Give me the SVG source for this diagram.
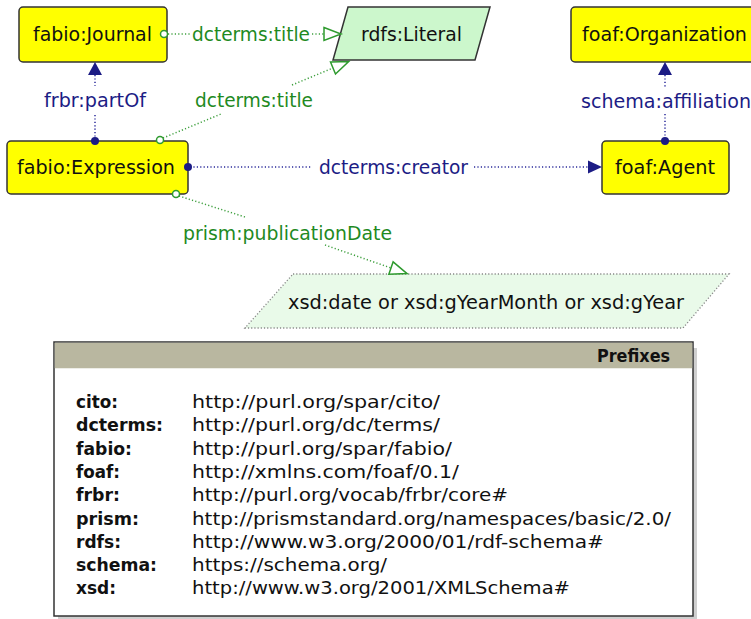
<svg xmlns="http://www.w3.org/2000/svg" width="751" height="619" viewBox="0 0 751 619">
<style>
.node{fill:#ffff00;stroke:#333;stroke-width:1.5}
.nl{font-family:"DejaVu Sans",sans-serif;font-size:19px;fill:#111}
.gl{stroke:#3fa03f;stroke-width:1.5;stroke-dasharray:1.2 2.2;fill:none}
.bl{stroke:#2a2a9a;stroke-width:1.5;stroke-dasharray:1.2 2.2;fill:none}
.gt{font-family:"DejaVu Sans",sans-serif;font-size:19px;fill:#1f8a1f}
.bt{font-family:"DejaVu Sans",sans-serif;font-size:19px;fill:#1c1c85}
.pk{font-family:"DejaVu Sans",sans-serif;font-size:18px;font-weight:bold;fill:#111}
.pv{font-family:"DejaVu Sans",sans-serif;font-size:18px;fill:#111}
.oc{fill:#fff;stroke:#2e9a2e;stroke-width:1.5}
.fc{fill:#1c1c85}
</style>
<defs>
<marker id="hollow" markerUnits="userSpaceOnUse" markerWidth="22" markerHeight="18" refX="0" refY="0" orient="auto" viewBox="-2 -9 22 18">
<path d="M0,-6.5 L17,0 L0,6.5 Z" fill="#fff" stroke="#2e9a2e" stroke-width="1.5"/>
</marker>
</defs>

<g id="n-journal">
<rect class="node" x="19" y="7" width="148" height="55" rx="4"/>
<text class="nl" x="33" y="41" textLength="119" lengthAdjust="spacingAndGlyphs">fabio:Journal</text>
</g>
<g id="n-literal">
<polygon points="348,7 490,7 475,60 333,60" fill="#ccf7cc" stroke="#333" stroke-width="1.5"/>
<text class="nl" x="361" y="41" textLength="101" lengthAdjust="spacingAndGlyphs">rdfs:Literal</text>
</g>
<g id="n-organization">
<rect class="node" x="571" y="7" width="190" height="55" rx="4"/>
<text class="nl" x="582" y="41" textLength="165" lengthAdjust="spacingAndGlyphs">foaf:Organization</text>
</g>
<g id="n-expression">
<rect class="node" x="7" y="141" width="181" height="53" rx="4"/>
<text class="nl" x="17" y="174" textLength="158" lengthAdjust="spacingAndGlyphs">fabio:Expression</text>
</g>
<g id="n-agent">
<rect class="node" x="602" y="141" width="127" height="53" rx="4"/>
<text class="nl" x="615" y="174" textLength="100" lengthAdjust="spacingAndGlyphs">foaf:Agent</text>
</g>
<g id="n-date">
<polygon points="293,274 729,274 683,328 245,328" fill="#e9fae9" stroke="#888" stroke-width="1.3" stroke-dasharray="1.2 2"/>
<text class="nl" x="288" y="309" textLength="396" lengthAdjust="spacingAndGlyphs">xsd:date or xsd:gYearMonth or xsd:gYear</text>
</g>

<g id="connectors">
<g id="e-title1">
<path class="gl" d="M168,34 L190,34"/>
<path class="gl" d="M312,34 L324,34" marker-end="url(#hollow)"/>
<circle class="oc" cx="164" cy="34" r="3.5"/>
<text class="gt" x="192" y="41" textLength="118" lengthAdjust="spacingAndGlyphs">dcterms:title</text>
</g>
<g id="e-partof">
<path class="bl" d="M95,75 L95,86"/>
<path class="bl" d="M95,115 L95,140"/>
<path class="fc" d="M88,75 L95,62 L102,75 Z"/>
<circle class="fc" cx="95" cy="141" r="4"/>
<text class="bt" x="44" y="107" textLength="102" lengthAdjust="spacingAndGlyphs">frbr:partOf</text>
</g>
<g id="e-title2">
<path class="gl" d="M163,138 L221,114"/>
<path class="gl" d="M292,85 L333,68" marker-end="url(#hollow)"/>
<circle class="oc" cx="160" cy="140" r="3.5"/>
<text class="gt" x="195" y="107" textLength="118" lengthAdjust="spacingAndGlyphs">dcterms:title</text>
</g>
<g id="e-creator">
<path class="bl" d="M190,167 L312,167"/>
<path class="bl" d="M474,167 L588,167"/>
<path class="fc" d="M588,160.5 L602,167 L588,173.5 Z"/>
<circle class="fc" cx="188" cy="167" r="4"/>
<text class="bt" x="319" y="174" textLength="149" lengthAdjust="spacingAndGlyphs">dcterms:creator</text>
</g>
<g id="e-affiliation">
<path class="bl" d="M665,75 L665,87"/>
<path class="bl" d="M665,114 L665,140"/>
<path class="fc" d="M658,75 L665,62 L672,75 Z"/>
<circle class="fc" cx="665" cy="141" r="4"/>
<text class="bt" x="581" y="108" textLength="170" lengthAdjust="spacingAndGlyphs">schema:affiliation</text>
</g>
<g id="e-pubdate">
<path class="gl" d="M179,196 L245,217"/>
<path class="gl" d="M325,245 L391,268" marker-end="url(#hollow)"/>
<circle class="oc" cx="176" cy="194" r="3.5"/>
<text class="gt" x="183" y="240" textLength="209" lengthAdjust="spacingAndGlyphs">prism:publicationDate</text>
</g>
</g>

<g id="prefixes">
<rect x="58" y="348" width="639" height="274" fill="#cfcfcf"/>
<rect x="54" y="342" width="639" height="274" fill="#fff" stroke="#333" stroke-width="1.5"/>
<rect x="54.75" y="342.75" width="637.5" height="25.5" fill="#b9b7a0"/>
<text class="pk" x="597" y="362" textLength="73" lengthAdjust="spacingAndGlyphs">Prefixes</text>
<g class="pk">
<text x="76" y="408" textLength="42" lengthAdjust="spacingAndGlyphs">cito:</text>
<text x="76" y="431.3" textLength="87" lengthAdjust="spacingAndGlyphs">dcterms:</text>
<text x="76" y="454.6" textLength="56" lengthAdjust="spacingAndGlyphs">fabio:</text>
<text x="76" y="477.9" textLength="44" lengthAdjust="spacingAndGlyphs">foaf:</text>
<text x="76" y="501.2" textLength="44" lengthAdjust="spacingAndGlyphs">frbr:</text>
<text x="76" y="524.5" textLength="63" lengthAdjust="spacingAndGlyphs">prism:</text>
<text x="76" y="547.8" textLength="45" lengthAdjust="spacingAndGlyphs">rdfs:</text>
<text x="76" y="571.1" textLength="81" lengthAdjust="spacingAndGlyphs">schema:</text>
<text x="76" y="594.4" textLength="40" lengthAdjust="spacingAndGlyphs">xsd:</text>
</g>
<g class="pv">
<text x="192" y="408" textLength="248" lengthAdjust="spacingAndGlyphs">http://purl.org/spar/cito/</text>
<text x="192" y="431.3" textLength="248" lengthAdjust="spacingAndGlyphs">http://purl.org/dc/terms/</text>
<text x="192" y="454.6" textLength="260" lengthAdjust="spacingAndGlyphs">http://purl.org/spar/fabio/</text>
<text x="192" y="477.9" textLength="267" lengthAdjust="spacingAndGlyphs">http://xmlns.com/foaf/0.1/</text>
<text x="192" y="501.2" textLength="316" lengthAdjust="spacingAndGlyphs">http://purl.org/vocab/frbr/core#</text>
<text x="192" y="524.5" textLength="479" lengthAdjust="spacingAndGlyphs">http://prismstandard.org/namespaces/basic/2.0/</text>
<text x="192" y="547.8" textLength="412" lengthAdjust="spacingAndGlyphs">http://www.w3.org/2000/01/rdf-schema#</text>
<text x="192" y="571.1" textLength="195" lengthAdjust="spacingAndGlyphs">https://schema.org/</text>
<text x="192" y="594.4" textLength="378" lengthAdjust="spacingAndGlyphs">http://www.w3.org/2001/XMLSchema#</text>
</g>
</g>
</svg>
